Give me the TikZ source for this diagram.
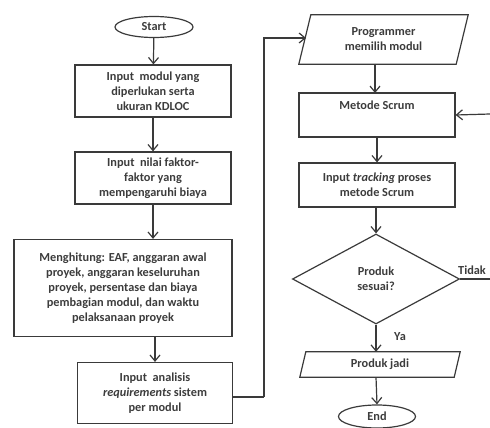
\documentclass[tikz,border=0pt]{standalone}
\usepackage{fontspec}
\setmainfont{Carlito}
\usetikzlibrary{shapes.geometric,arrows.meta,calc}
\definecolor{ln}{HTML}{3A3A3A}
\definecolor{tx}{HTML}{3C3C3C}
\begin{document}
\begin{tikzpicture}[x=1pt,y=-1pt,
  every node/.style={font=\fontsize{12.3}{15}\selectfont\bfseries, text=tx, align=center, inner sep=0pt},
  box/.style={draw=ln, line width=1.2pt, rectangle, minimum width=156, minimum height=52},
  oval/.style={draw=ln, line width=1.2pt, ellipse, minimum width=78, minimum height=21},
  ghost/.style={rectangle, draw=none},
  arr/.style={draw=ln, line width=1.2pt, -{Straight Barb[length=6pt,width=10pt,line width=1.2pt]}},
  ln/.style={draw=ln, line width=1.2pt}]
\useasboundingbox (0,0) rectangle (490,428);

\node[oval] (start) at (154,27) {Start};
\node[box] (b1) at (153,91) {Input\ \ modul yang\\diperlukan serta\\ukuran KDLOC};
\node[box] (b2) at (153,178) {Input\ \ nilai faktor-\\faktor yang\\mempengaruhi biaya};
\node[box, minimum width=218, minimum height=97] (b3) at (123,288) {Menghitung: EAF, anggaran awal\\proyek, anggaran keseluruhan\\proyek, persentase dan biaya\\pembagian modul, dan waktu\\pelaksanaan proyek};
\node[box, minimum width=155, minimum height=61] (b4) at (155,393) {Input\ \ analisis\\\textit{requirements} sistem\\per modul};

\node[ghost, minimum width=169, minimum height=49] (p1) at (383.5,39.5) {Programmer\\memilih modul};
\draw[ln] ([xshift=12]p1.north west) -- (p1.north east) -- ([xshift=-12]p1.south east) -- (p1.south west) -- cycle;

\node[box, minimum width=156, minimum height=44] (scrum) at (377,115) {Metode Scrum\\\strut};
\node[box, minimum width=156, minimum height=44] (track) at (377,185) {Input \textit{tracking} proses\\metode Scrum};
\node[diamond, draw=ln, line width=1.2pt, minimum width=167, minimum height=90] (d) at (376,279) {Produk\\sesuai?};

\node[ghost, minimum width=160, minimum height=25] (pj) at (380,364.5) {Produk jadi};
\draw[ln] ([xshift=6]pj.north west) -- (pj.north east) -- ([xshift=-6]pj.south east) -- (pj.south west) -- cycle;

\node[oval, minimum width=77, minimum height=23] (end) at (377,416.5) {End};

\coordinate (corner) at (264,397);
\coordinate (p1in) at (306,38);
\coordinate (tidakEnd) at (490,279);
\coordinate (scrumIn) at (490,114);

\path[arr] (start) -- (b1);
\path[arr] (b1) -- (b2);
\path[arr] (b2.south) -- (b2.south |- b3.north);
\path[arr] (b4.north |- b3.south) -- (b4.north);
\path[ln] (b4.east |- corner) -- (corner);
\path[arr] (corner) |- (p1in);
\path[arr] (375,64) -- (375,93);
\path[arr] (scrum) -- (track);
\path[arr] (track.south -| d.north) -- (d.north);
\path[arr] (d.south) -- (d.south |- pj.north);
\node (ya) at (400,337) {Ya};
\path[arr] (d.south |- pj.south) -- (end.north);
\path[ln] (d.east) -- (tidakEnd);
\node (tidak) at (472,270) {Tidak};
\path[arr] (scrumIn) -- (scrum.east);
\end{tikzpicture}
\end{document}
